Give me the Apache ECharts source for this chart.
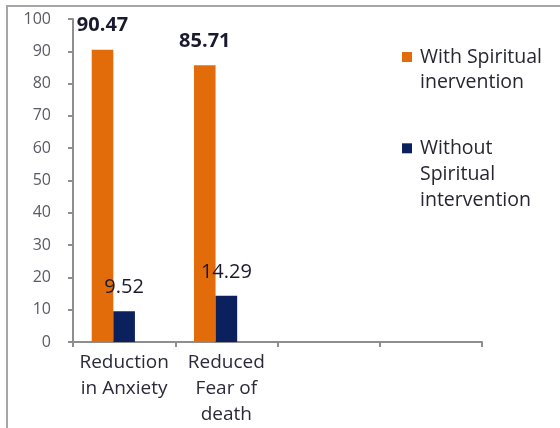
<!DOCTYPE html>
<html>
<head>
<meta charset="utf-8">
<script src="https://cdn.jsdelivr.net/npm/echarts@6/dist/echarts.min.js"></script>
<style>
html,body{margin:0;padding:0;background:#fff;}
#c{width:560px;height:428px;}
</style>
</head>
<body>
<div id="c"></div>
<script>
const categories = ['Reduction\nin Anxiety', 'Reduced\nFear of\ndeath', '', ''];
const seriesNames = ['With Spiritual\ninervention', 'Without\nSpiritual\nintervention'];
const withSpiritual = [90.47, 85.71, null, null];
const withoutSpiritual = [9.52, 14.29, null, null];
const padSeries = [null, null, null, null];
const yMin = 0, yMax = 100, yInterval = 10;

const FONT = '"Open Sans", sans-serif';
const ORANGE = '#E36C0A';
const NAVY = '#0A215E';
const AXIS = '#8e8e8e';

// keep the first text line level with the legend icon
function firstLineLegend(name) {
  const n = name.split('\n').length;
  return '\n'.repeat(n - 1) + name;
}

const chart = echarts.init(document.getElementById('c'), null, {renderer: 'canvas'});
chart.setOption({
  animation: false,
  backgroundColor: '#fff',
  graphic: [{
    type: 'rect', silent: true,
    shape: {x: 7, y: 6, width: 1000, height: 1000},
    style: {fill: 'none', stroke: '#a6a6a6', lineWidth: 2}
  }],
  grid: {left: 73, right: 78, top: 19, bottom: 86},
  legend: [{
    data: [seriesNames[0]],
    orient: 'vertical', left: 402, top: 19.5, padding: 0,
    icon: 'rect', itemWidth: 10, itemHeight: 10, itemGap: 0, selectedMode: false,
    formatter: firstLineLegend,
    textStyle: {fontFamily: FONT, fontSize: 19.5, lineHeight: 25, color: '#262633', padding: [0, 0, 0, 3]}
  }, {
    data: [seriesNames[1]],
    orient: 'vertical', left: 402, top: 83.3, padding: 0,
    icon: 'rect', itemWidth: 10, itemHeight: 10, itemGap: 0, selectedMode: false,
    formatter: firstLineLegend,
    textStyle: {fontFamily: FONT, fontSize: 19.5, lineHeight: 26, color: '#262633', padding: [0, 0, 0, 3]}
  }],
  xAxis: {
    type: 'category',
    data: categories,
    axisLine: {lineStyle: {color: AXIS, width: 2}},
    axisTick: {show: true, length: 5, lineStyle: {color: AXIS, width: 2}},
    axisLabel: {interval: 0, margin: 8, fontFamily: FONT, fontSize: 19, lineHeight: 26, color: '#2a2a3a'},
    splitLine: {show: false}
  },
  yAxis: {
    type: 'value',
    min: yMin, max: yMax, interval: yInterval,
    axisLine: {show: true, lineStyle: {color: AXIS, width: 2}},
    axisTick: {show: true, length: 5, lineStyle: {color: AXIS, width: 2}},
    axisLabel: {margin: 22, fontFamily: FONT, fontSize: 16, color: '#5a5a66'},
    splitLine: {show: false}
  },
  series: [{
    name: seriesNames[0], type: 'bar', data: withSpiritual,
    barWidth: 21.6, barGap: '0%',
    itemStyle: {color: ORANGE},
    label: {show: true, position: 'top', distance: 14, fontFamily: FONT, fontSize: 20, fontWeight: 'bold', color: '#1a1a2e'}
  }, {
    name: seriesNames[1], type: 'bar', data: withoutSpiritual,
    barWidth: 21.6, barGap: '0%',
    itemStyle: {color: NAVY},
    label: {show: true, position: 'top', distance: 14, fontFamily: FONT, fontSize: 20, color: '#1a1a2e'}
  }, {
    name: 'pad', type: 'bar', data: padSeries,
    barWidth: 21.6, barGap: '0%',
    itemStyle: {color: 'rgba(0,0,0,0)'}, silent: true
  }]
});
</script>
</body>
</html>
